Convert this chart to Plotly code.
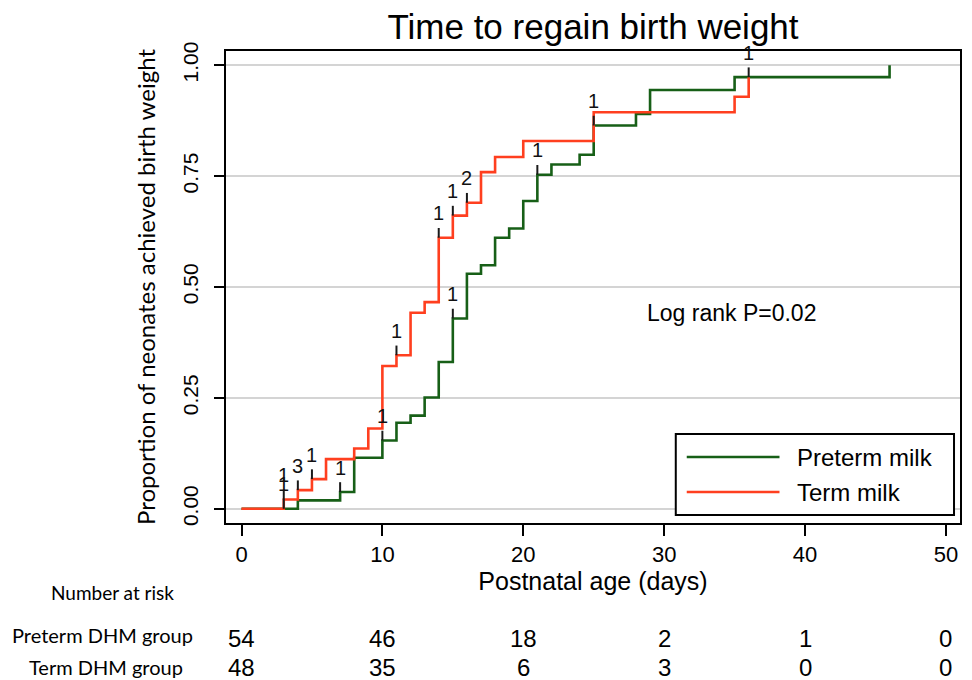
import numpy as np
import plotly.graph_objects as go

# ---- Data ----
preterm_times = [0, 4, 7, 8, 10, 11, 12, 13, 14, 15, 16, 17, 18, 19, 20, 21, 22, 24, 25, 28, 29, 35, 46]
preterm_prop = [0, 0.019, 0.038, 0.115, 0.154, 0.194, 0.21, 0.251, 0.331, 0.429, 0.530, 0.549,
                0.611, 0.632, 0.694, 0.753, 0.776, 0.798, 0.864, 0.890, 0.944, 0.973, 1.0]

term_times = [0, 3, 4, 5, 6, 8, 9, 10, 11, 12, 13, 14, 15, 16, 17, 18, 20, 25, 35, 36]
term_prop = [0, 0.021, 0.042, 0.067, 0.112, 0.136, 0.181, 0.322, 0.346, 0.442, 0.466, 0.611,
             0.661, 0.690, 0.759, 0.793, 0.829, 0.894, 0.929, 0.973]

preterm_censor_times = [3, 7, 10, 15, 21, 25]
preterm_censor_counts = [1, 1, 1, 1, 1, 1]
term_censor_times = [3, 4, 5, 11, 14, 15, 16, 36]
term_censor_counts = [1, 3, 1, 1, 1, 1, 2, 1]

risk_times = [0, 10, 20, 30, 40, 50]
preterm_at_risk = [54, 46, 18, 2, 1, 0]
term_at_risk = [48, 35, 6, 3, 0, 0]

series_names = ["Preterm milk", "Term milk"]
risk_row_labels = ["Preterm DHM group", "Term DHM group"]

GREEN = "#175f17"
RED = "#ff3f1f"

# page body has an 8px margin: figure is laid out in page pixels minus 8
OFF = 8
W, H = 972 - OFF, 680 - OFF
PL, PT, PW, PH = 226 - OFF, 51 - OFF, 736, 472


def px_x(px):
    return (px - OFF - PL) / PW


def px_y(py):
    return (PT + PH - (py - OFF)) / PH


fig = go.Figure()

fig.add_trace(go.Scatter(x=preterm_times, y=preterm_prop, mode="lines", line_shape="hv",
                         line=dict(color=GREEN, width=2.6), name=series_names[0], showlegend=False))
fig.add_trace(go.Scatter(x=term_times, y=term_prop, mode="lines", line_shape="hv",
                         line=dict(color=RED, width=2.6), name=series_names[1], showlegend=False))

TICK_LEN = 0.022
LABEL_OFF = 0.055


def value_at(times, props, t):
    idx = np.searchsorted(np.asarray(times), t, side="right") - 1
    return props[idx]


annotations = []
tx, ty = [], []
for times, props, ctimes, ccounts in [
    (preterm_times, preterm_prop, preterm_censor_times, preterm_censor_counts),
    (term_times, term_prop, term_censor_times, term_censor_counts),
]:
    for t, c in zip(ctimes, ccounts):
        v = value_at(times, props, t)
        tx += [t, t, None]
        ty += [v, v + TICK_LEN, None]
        annotations.append(dict(x=t, y=v + LABEL_OFF, xref="x", yref="y", text=str(c), showarrow=False,
                                xanchor="center", yanchor="middle",
                                font=dict(family="Liberation Sans, Arial", size=20, color="#111")))

fig.add_trace(go.Scatter(x=tx, y=ty, mode="lines", line=dict(color="#1a1a1a", width=2),
                         showlegend=False, hoverinfo="skip", cliponaxis=False))

# Number at risk rows
for vals, py in [(preterm_at_risk, 638), (term_at_risk, 667)]:
    for t, n in zip(risk_times, vals):
        annotations.append(dict(x=t, y=px_y(py), xref="x", yref="paper", text=str(n), showarrow=False,
                                xanchor="center", yanchor="middle",
                                font=dict(family="Liberation Sans, Arial", size=24, color="black")))

CAL = "Lato, Open Sans, sans-serif"
annotations.append(dict(x=px_x(112), y=px_y(592), xref="paper", yref="paper", text="Number at risk",
                        showarrow=False, xanchor="center", yanchor="middle",
                        font=dict(family=CAL, size=19, color="black")))
annotations.append(dict(x=px_x(102), y=px_y(635), xref="paper", yref="paper", text=risk_row_labels[0],
                        showarrow=False, xanchor="center", yanchor="middle",
                        font=dict(family=CAL, size=20, color="black")))
annotations.append(dict(x=px_x(106), y=px_y(667), xref="paper", yref="paper", text=risk_row_labels[1],
                        showarrow=False, xanchor="center", yanchor="middle",
                        font=dict(family=CAL, size=20, color="black")))

# Log rank text
annotations.append(dict(x=34.8, y=0.442, xref="x", yref="y", text="Log rank P=0.02", showarrow=False,
                        xanchor="center", yanchor="middle",
                        font=dict(family="Liberation Sans, Arial", size=23, color="black")))

# Custom legend
shapes = [dict(type="rect", xref="paper", yref="paper", x0=px_x(677), x1=px_x(956), y0=px_y(515), y1=px_y(434),
               line=dict(color="black", width=2), fillcolor="white", layer="above")]
for name, col, py in [(series_names[0], GREEN, 457), (series_names[1], RED, 492)]:
    shapes.append(dict(type="line", xref="paper", yref="paper", x0=px_x(688), x1=px_x(781),
                       y0=px_y(py), y1=px_y(py), line=dict(color=col, width=2.6), layer="above"))
    annotations.append(dict(x=px_x(797), y=px_y(py), xref="paper", yref="paper", text=name,
                            showarrow=False, xanchor="left", yanchor="middle",
                            font=dict(family="Liberation Sans, Arial", size=24, color="black")))

fig.update_layout(
    width=W, height=H,
    margin=dict(l=PL, r=W - PL - PW, t=PT, b=H - PT - PH),
    plot_bgcolor="white", paper_bgcolor="white",
    title=dict(text="Time to regain birth weight", x=0.5, xref="paper", xanchor="center",
               y=1 - (27 - OFF) / H, yref="container", yanchor="middle",
               font=dict(family="Liberation Sans, Arial", size=35, color="black")),
    annotations=annotations,
    shapes=shapes,
    showlegend=False,
)

fig.update_xaxes(range=[-1.1, 51.0], tickmode="array", tickvals=[0, 10, 20, 30, 40, 50],
                 showgrid=False, zeroline=False, showline=True, mirror=True,
                 linecolor="black", linewidth=2, ticks="outside", ticklen=11, tickwidth=2,
                 tickcolor="black",
                 tickfont=dict(family="Liberation Sans, Arial", size=22, color="black"),
                 title=dict(text="Postnatal age (days)", standoff=4,
                            font=dict(family="Liberation Sans, Arial", size=25, color="black")))
fig.update_yaxes(range=[-0.032, 1.032], tickmode="array", tickvals=[0, 0.25, 0.5, 0.75, 1.0],
                 tickformat=".2f", tickangle=-90, ticklabelstandoff=8,
                 showgrid=True, gridcolor="#d4d4d4", gridwidth=2, zeroline=False,
                 showline=True, mirror=True, linecolor="black", linewidth=2,
                 ticks="outside", ticklen=10, tickwidth=2, tickcolor="black",
                 tickfont=dict(family="Liberation Sans, Arial", size=21, color="black"),
                 title=dict(text="Proportion of neonates achieved birth weight", standoff=16,
                            font=dict(family=CAL, size=24, color="black")))

fig.write_html("out.html")
